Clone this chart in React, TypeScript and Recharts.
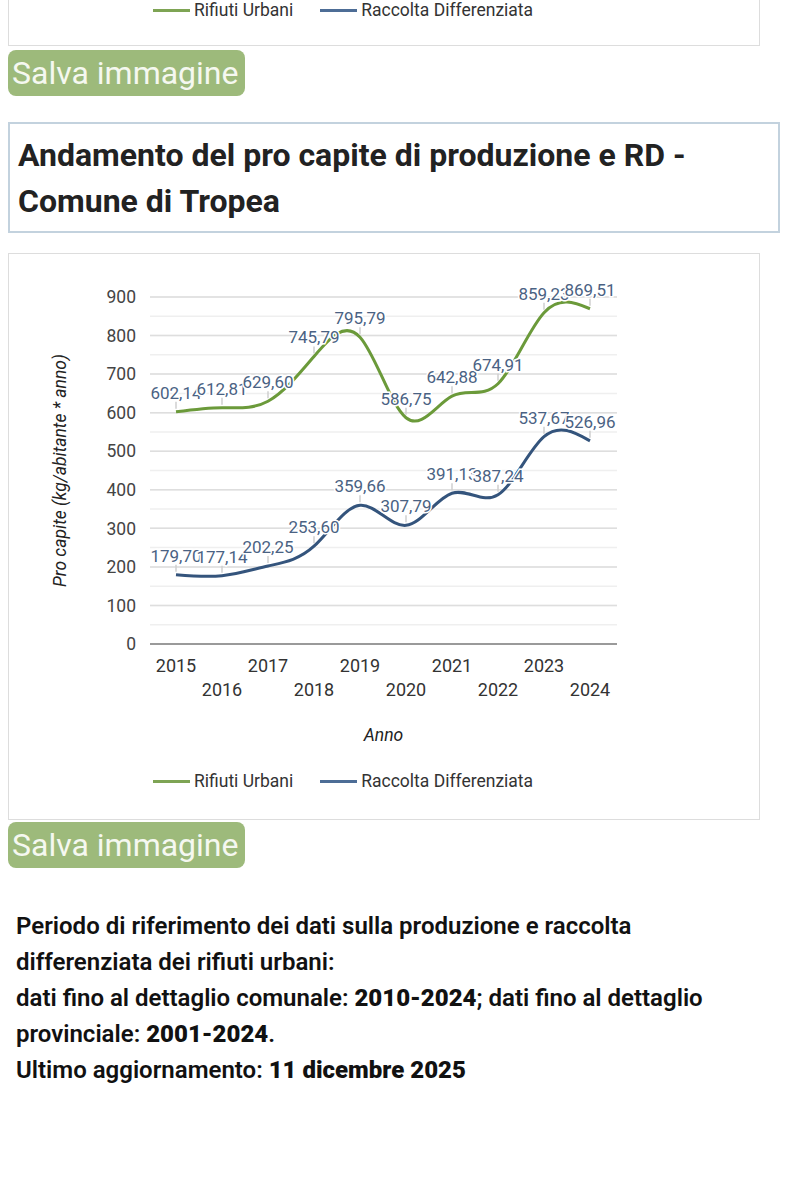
import { CartesianGrid, Legend, Line, LineChart, LabelList, ReferenceLine, XAxis, YAxis } from 'recharts'

const years = ['2015', '2016', '2017', '2018', '2019', '2020', '2021', '2022', '2023', '2024']
const rifiutiUrbani = [602.14, 612.81, 629.6, 745.79, 795.79, 586.75, 642.88, 674.91, 859.23, 869.51]
const raccoltaDifferenziata = [179.7, 177.14, 202.25, 253.6, 359.66, 307.79, 391.13, 387.24, 537.67, 526.96]
const yTicks = [0, 50, 100, 150, 200, 250, 300, 350, 400, 450, 500, 550, 600, 650, 700, 750, 800, 850, 900]
const majorTicks = [100, 200, 300, 400, 500, 600, 700, 800, 900]

const data = years.map((anno, i) => ({
    anno,
    ru: rifiutiUrbani[i],
    rd: raccoltaDifferenziata[i],
}))

const GREEN = '#6b9a3a'
const BLUE = '#34547c'

const fmt = (v: number) => v.toFixed(2).replace('.', ',')

const PointLabel = (props: any) => {
    const { x, y, value } = props
    return (
        <g>
            <line x1={x} x2={x} y1={y - 3} y2={y - 10} stroke="#cfcfcf" strokeWidth={1.5} />
            <text x={x} y={y - 19} textAnchor="middle" dominantBaseline="central" fontSize={17}
                fill="#4a6283" stroke="#fff" strokeWidth={3} paintOrder="stroke">{fmt(value)}</text>
        </g>
    )
}

const YearTick = (props: any) => {
    const { x, y, payload, index } = props
    return (
        <text x={x} y={y + (index % 2 ? 37 : 13)} textAnchor="middle" dominantBaseline="central"
            fontSize={18} fill="#333">{payload.value}</text>
    )
}

const LegendBox = () => (
    <div style={{ display: 'flex', alignItems: 'center', fontSize: 17.5, color: '#333', height: 20, whiteSpace: 'nowrap' }}>
        <span style={{ width: 37, height: 3, background: '#7ea454', display: 'inline-block', marginRight: 4 }} />
        <span style={{ marginRight: 27 }}>Rifiuti Urbani</span>
        <span style={{ width: 37, height: 3, background: '#4d6d96', display: 'inline-block', marginRight: 4 }} />
        <span>Raccolta Differenziata</span>
    </div>
)

const btn: React.CSSProperties = {
    position: 'absolute', left: 8, width: 237, height: 46, background: '#9dba7b', borderRadius: 8,
    color: '#f5f8f0', fontSize: 32, lineHeight: '46px', paddingLeft: 4, boxSizing: 'border-box', whiteSpace: 'nowrap',
}

const App = () => {
    return (
        <div style={{ position: 'absolute', left: 0, top: 0, width: 789, height: 1200, fontFamily: 'Roboto, sans-serif', background: '#fff', overflow: 'hidden' }}>
            {/* tail of the previous chart */}
            <div style={{ position: 'absolute', left: 8, top: -2, width: 752, height: 48, border: '1px solid #ddd', boxSizing: 'border-box' }}>
                <div style={{ position: 'absolute', left: 144, top: 1 }}><LegendBox /></div>
            </div>
            <div style={{ ...btn, top: 50 }}>Salva immagine</div>

            <div style={{ position: 'absolute', left: 8, top: 122, width: 772, height: 111, border: '2px solid #c3d2de', boxSizing: 'border-box', padding: '8px 0 0 8px', fontSize: 32, fontWeight: 700, lineHeight: '46px', color: '#222', whiteSpace: 'nowrap' }}>
                Andamento del pro capite di produzione e RD -<br />Comune di Tropea
            </div>

            <div style={{ position: 'absolute', left: 8, top: 253, width: 752, height: 567, border: '1px solid #ddd', boxSizing: 'border-box' }}>
                <LineChart width={750} height={565} data={data} margin={{ top: 43, right: 142, bottom: 45, left: 30 }}>
                    <CartesianGrid vertical={false} stroke="#efefef" strokeWidth={1.5} />
                    {majorTicks.map(t => <ReferenceLine key={t} y={t} stroke="#dedede" strokeWidth={1.5} />)}
                    <XAxis dataKey="anno" height={110} tickLine={false} axisLine={{ stroke: '#9a9a9a', strokeWidth: 2 }}
                        padding={{ left: 26, right: 27 }} interval={0} tick={<YearTick />}
                        label={{ value: 'Anno', position: 'insideBottom', offset: 13, fontSize: 17.5, fontStyle: 'italic', fill: '#222' }} />
                    <YAxis width={111} domain={[0, 900]} ticks={yTicks} tickLine={false} axisLine={false} tickMargin={8}
                        tickFormatter={(v: number) => (v % 100 === 0 ? String(v) : '')}
                        tick={{ fontSize: 17.5, fill: '#444' }}
                        label={{ value: 'Pro capite (kg/abitante * anno)', angle: -90, position: 'insideLeft', offset: 21, fontSize: 17.5, fontStyle: 'italic', fill: '#222', style: { textAnchor: 'middle' } }} />
                    <Legend verticalAlign="bottom" align="left" content={<LegendBox />} wrapperStyle={{ left: 144, bottom: 28, width: 'auto' }} />
                    <Line type="natural" dataKey="ru" name="Rifiuti Urbani" stroke={GREEN} strokeWidth={3} dot={false} isAnimationActive={false}>
                        <LabelList dataKey="ru" content={<PointLabel />} />
                    </Line>
                    <Line type="natural" dataKey="rd" name="Raccolta Differenziata" stroke={BLUE} strokeWidth={3} dot={false} isAnimationActive={false}>
                        <LabelList dataKey="rd" content={<PointLabel />} />
                    </Line>
                </LineChart>
            </div>

            <div style={{ ...btn, top: 822 }}>Salva immagine</div>

            <div style={{ position: 'absolute', left: 16, top: 908, fontSize: 24, lineHeight: '36px', fontWeight: 600, color: '#111', whiteSpace: 'nowrap' }}>
                Periodo di riferimento dei dati sulla produzione e raccolta<br />
                differenziata dei rifiuti urbani:<br />
                dati fino al dettaglio comunale: <b>2010-2024</b>; dati fino al dettaglio<br />
                provinciale: <b>2001-2024</b>.<br />
                Ultimo aggiornamento: <b>11 dicembre 2025</b>
            </div>
        </div>
    )
}

export default App
